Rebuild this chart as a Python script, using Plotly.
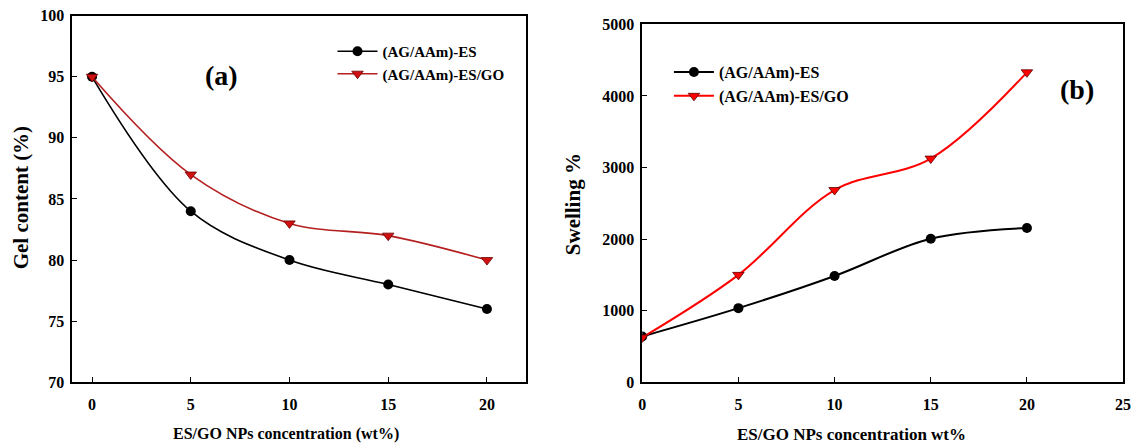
import plotly.graph_objects as go

# ES/GO NPs concentration (wt%)
conc = [0, 5, 10, 15, 20]

# (a) Gel content (%)
gel_es = [95, 84, 80, 78, 76]
gel_esgo = [95, 87, 83, 82, 80]

# (b) Swelling %
swell_es = [640, 1035, 1485, 2005, 2155]
swell_esgo = [625, 1500, 2685, 3125, 4330]

x_ticks_a = [0, 5, 10, 15, 20]
y_ticks_a = [70, 75, 80, 85, 90, 95, 100]
x_ticks_b = [0, 5, 10, 15, 20, 25]
y_ticks_b = [0, 1000, 2000, 3000, 4000, 5000]

FONT = "Liberation Serif, Times New Roman, serif"
W, H = 1141, 448

fig = go.Figure()

es_marker = dict(symbol="circle", size=10, color="black")

fig.add_trace(go.Scatter(
    x=conc, y=gel_es, name="(AG/AAm)-ES", mode="lines+markers",
    line=dict(color="black", width=1.6, shape="spline", smoothing=1.0),
    marker=es_marker, xaxis="x", yaxis="y", legend="legend"))
fig.add_trace(go.Scatter(
    x=conc, y=gel_esgo, name="(AG/AAm)-ES/GO", mode="lines+markers",
    line=dict(color="#b42020", width=1.6, shape="spline", smoothing=1.0),
    marker=dict(symbol="triangle-down", size=10, color="#d01010",
                line=dict(color="#6a0000", width=0.8)),
    xaxis="x", yaxis="y", legend="legend"))

fig.add_trace(go.Scatter(
    x=conc, y=swell_es, name="(AG/AAm)-ES", mode="lines+markers",
    line=dict(color="black", width=2, shape="spline", smoothing=1.0),
    marker=es_marker, xaxis="x2", yaxis="y2", legend="legend2"))
fig.add_trace(go.Scatter(
    x=conc, y=swell_esgo, name="(AG/AAm)-ES/GO", mode="lines+markers",
    line=dict(color="#ff0000", width=2, shape="spline", smoothing=1.0),
    marker=dict(symbol="triangle-down", size=10, color="#ff0000",
                line=dict(color="#5a0000", width=0.8)),
    xaxis="x2", yaxis="y2", legend="legend2"))


def bold(size):
    return dict(family=FONT, size=size, color="black", weight="bold")


axis_common = dict(showline=True, linecolor="black", linewidth=1.6, mirror=True,
                   showgrid=False, zeroline=False, ticks="inside", ticklen=5,
                   tickcolor="black", tickwidth=1)


def label(text, x, y, size=18, angle=0):
    return dict(text=text, x=x / W, y=1 - y / H, xref="paper", yref="paper",
                showarrow=False, textangle=angle, xanchor="center", yanchor="middle",
                font=bold(size))


fig.update_layout(
    width=W, height=H,
    margin=dict(l=0, r=0, t=0, b=0),
    paper_bgcolor="white", plot_bgcolor="white",
    xaxis=dict(domain=[69 / W, 528 / W], range=[-1, 22], tickvals=x_ticks_a,
               anchor="y", ticklabelstandoff=7, tickfont=bold(16), **axis_common),
    yaxis=dict(domain=[1 - 389 / H, 1 - 8 / H], range=[70, 100], tickvals=y_ticks_a,
               anchor="x", ticklabelstandoff=3, tickfont=bold(16), **axis_common),
    xaxis2=dict(domain=[645 / W, 1131 / W], range=[0, 25], tickvals=x_ticks_b,
                anchor="y2", ticklabelstandoff=7, tickfont=bold(16), **axis_common),
    yaxis2=dict(domain=[1 - 389 / H, 1 - 17 / H], range=[0, 5000], tickvals=y_ticks_b,
                anchor="x2", ticklabelstandoff=3, tickfont=bold(16), **axis_common),
    legend=dict(x=332 / W, y=1 - 28 / H, xanchor="left", yanchor="top",
                bgcolor="rgba(0,0,0,0)", tracegroupgap=0, itemwidth=40,
                font=bold(15)),
    legend2=dict(x=672 / W, y=1 - 49 / H, xanchor="left", yanchor="top",
                 bgcolor="rgba(0,0,0,0)", tracegroupgap=0, itemwidth=40,
                 font=bold(16)),
    annotations=[
        label("(a)", 220, 70, size=28),
        label("(b)", 1084, 85, size=28),
        label("ES/GO NPs concentration (wt%)", 285, 443, size=16),
        label("ES/GO NPs concentration wt%", 857, 443, size=17),
        label("Gel content (%)", 17, 197, size=21, angle=-90),
        label("Swelling %", 575, 204, size=21, angle=-90),
    ],
)

fig.write_html("out.html", post_script="document.body.style.margin='0';")
